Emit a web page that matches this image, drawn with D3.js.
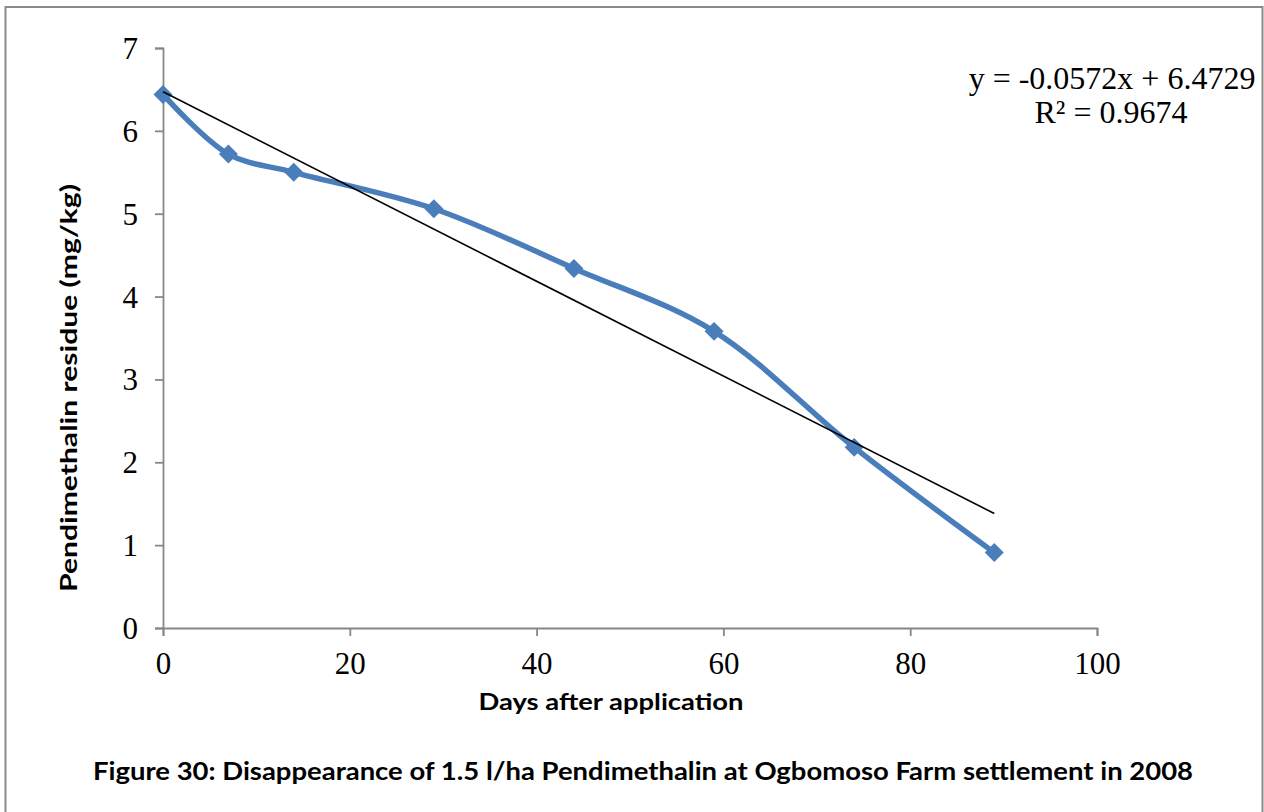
<!DOCTYPE html>
<html>
<head>
<meta charset="utf-8">
<script src="https://cdn.jsdelivr.net/npm/d3@7"></script>
<style>
  html, body { margin: 0; padding: 0; background: #fff; }
  svg { display: block; }
</style>
</head>
<body>
<svg id="chart" width="1264" height="812"></svg>
<script>
// Residue measurements (days after application vs. mg/kg)
const days = [0, 7, 14, 29, 44, 59, 74, 89];
const residue = [6.44, 5.72, 5.50, 5.06, 4.34, 3.58, 2.18, 0.91];

// Linear trendline as reported
const trendSlope = -0.0572;
const trendIntercept = 6.4729;
const trendLabel = "y = -0.0572x + 6.4729";
const r2Label = "R\u00B2 = 0.9674";

const xTicks = [0, 20, 40, 60, 80, 100];
const yTicks = [0, 1, 2, 3, 4, 5, 6, 7];

const xTitle = "Days after application";
const yTitle = "Pendimethalin residue (mg/kg)";
const caption = "Figure 30: Disappearance of 1.5 l/ha Pendimethalin at Ogbomoso Farm settlement in 2008";

const svg = d3.select("#chart");

// outer frame
svg.append("rect")
  .attr("x", 5.5).attr("y", 7)
  .attr("width", 1257).attr("height", 820)
  .attr("fill", "#fff")
  .attr("stroke", "#8a8a8a").attr("stroke-width", 2);

const x = d3.scaleLinear().domain([0, 100]).range([163, 1097]);
const y = d3.scaleLinear().domain([0, 7]).range([628, 48]);

const axisColor = "#878787";
const serif = "'Liberation Serif', 'Times New Roman', serif";
const sans = "Lato, Carlito, Calibri, sans-serif";

// y axis
const yAxis = svg.append("g")
  .attr("transform", `translate(${x(0)},0)`)
  .call(d3.axisLeft(y).tickValues(yTicks).tickSize(8).tickPadding(17).tickFormat(d3.format("d")));
// x axis
const xAxis = svg.append("g")
  .attr("transform", `translate(0,${y(0)})`)
  .call(d3.axisBottom(x).tickValues(xTicks).tickSize(8).tickPadding(18).tickFormat(d3.format("d")));

[yAxis, xAxis].forEach(g => {
  g.select(".domain").attr("stroke", axisColor).attr("stroke-width", 1.8);
  g.selectAll(".tick line").attr("stroke", axisColor).attr("stroke-width", 1.8);
  g.selectAll(".tick text")
    .attr("fill", "#000")
    .style("font-family", serif)
    .style("font-size", "31px");
});
yAxis.selectAll(".tick text").attr("dy", "0.34em");
xAxis.selectAll(".tick text").attr("dy", "0.66em");

// smoothed data series
const line = d3.line()
  .x((d, i) => x(days[i]))
  .y(d => y(d))
  .curve(d3.curveCatmullRom.alpha(0.5));

svg.append("path")
  .datum(residue)
  .attr("d", line)
  .attr("fill", "none")
  .attr("stroke", "#4a7ebb")
  .attr("stroke-width", 5.5)
  .attr("stroke-linejoin", "round");

// diamond markers
const diamond = d3.symbol().type(d3.symbolSquare).size(180);
svg.append("g").selectAll("path")
  .data(residue)
  .join("path")
  .attr("d", diamond)
  .attr("transform", (d, i) => `translate(${x(days[i])},${y(d)}) rotate(45)`)
  .attr("fill", "#4a7ebb");

// linear trendline over the data range
const tx0 = d3.min(days), tx1 = d3.max(days);
svg.append("line")
  .attr("x1", x(tx0)).attr("y1", y(trendIntercept + trendSlope * tx0))
  .attr("x2", x(tx1)).attr("y2", y(trendIntercept + trendSlope * tx1))
  .attr("stroke", "#000")
  .attr("stroke-width", 1.6);

// trendline equation
svg.append("text")
  .attr("x", 1112).attr("y", 89)
  .attr("text-anchor", "middle")
  .style("font-family", serif).style("font-size", "32px")
  .text(trendLabel);
svg.append("text")
  .attr("x", 1111).attr("y", 123)
  .attr("text-anchor", "middle")
  .style("font-family", serif).style("font-size", "32px")
  .text(r2Label);

// axis titles
svg.append("text")
  .attr("x", 611).attr("y", 710)
  .attr("text-anchor", "middle")
  .attr("textLength", 265).attr("lengthAdjust", "spacingAndGlyphs")
  .style("font-family", sans).style("font-weight", "bold").style("font-size", "23px")
  .text(xTitle);

svg.append("text")
  .attr("transform", "translate(77,388) rotate(-90)")
  .attr("text-anchor", "middle")
  .attr("textLength", 408).attr("lengthAdjust", "spacingAndGlyphs")
  .style("font-family", sans).style("font-weight", "bold").style("font-size", "23px")
  .text(yTitle);

// figure caption
svg.append("text")
  .attr("x", 643).attr("y", 780)
  .attr("text-anchor", "middle")
  .attr("textLength", 1100).attr("lengthAdjust", "spacingAndGlyphs")
  .style("font-family", sans).style("font-weight", "bold").style("font-size", "24px")
  .text(caption);
</script>
</body>
</html>
